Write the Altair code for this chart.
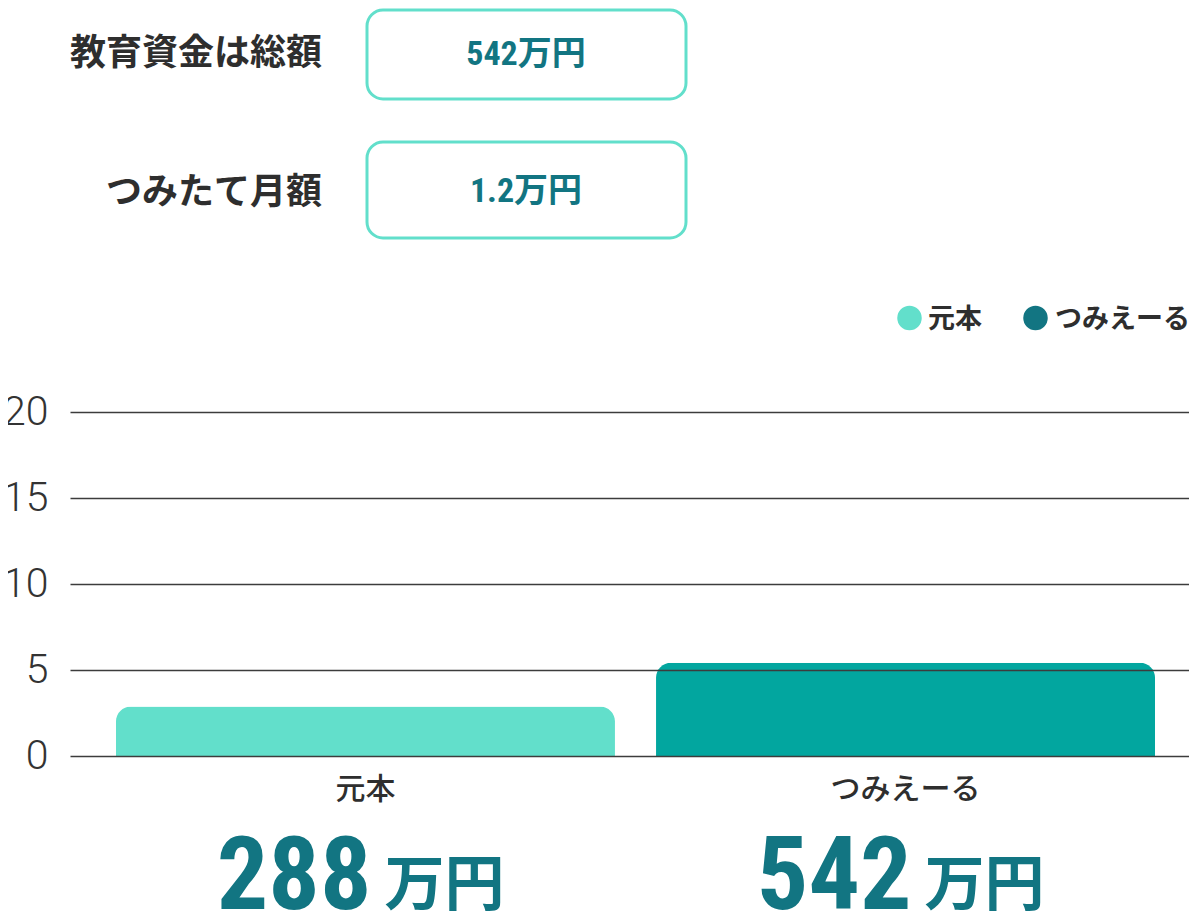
import altair as alt
import pandas as pd

# ---- data ----
categories = ["元本", "つみえーる"]
amounts_man = [288, 542]          # 万円
bar_colors = ["#62dfcb", "#02a69f"]
legend_colors = ["#62dfcb", "#127582"]
form_labels = ["教育資金は総額", "つみたて月額"]
form_values = ["542万円", "1.2万円"]
y_ticks = [0, 5, 10, 15, 20]
unit = "万円"

# ---- style ----
NARROW = "Liberation Sans Narrow, Roboto Condensed, Roboto, sans-serif"
CJK = "Noto Sans CJK JP"
TEAL_DARK = "#127582"
MINT = "#62dfcb"
TEXT = "#2e2e2e"

W, H = 1119, 344

bars_df = pd.DataFrame({"category": categories, "amount": amounts_man})

x_enc = alt.X(
    "category:N",
    sort=categories,
    scale=alt.Scale(paddingInner=0.076, paddingOuter=0.074, align=0.575),
    axis=alt.Axis(
        title=None, labelAngle=0, domain=False, ticks=False, grid=False,
        labelPadding=18, labelFont=CJK, labelFontSize=30, labelFontWeight=500,
        labelColor=TEXT,
    ),
)

y_enc = alt.Y(
    "height:Q",
    scale=alt.Scale(domain=[0, 20]),
    axis=alt.Axis(
        values=y_ticks, title=None, domain=False, ticks=False, grid=True,
        gridColor="#3c3c3c", gridWidth=1.5, labelFont="Roboto",
        labelFontWeight=300, labelFontSize=41, labelColor="#333333",
        labelPadding=22, zindex=1,
    ),
)

base = alt.Chart(bars_df).transform_calculate(height="datum.amount / 100")

bars = base.mark_bar(cornerRadiusTopLeft=15, cornerRadiusTopRight=15).encode(
    x=x_enc,
    y=y_enc,
    color=alt.Color("category:N", scale=alt.Scale(domain=categories, range=bar_colors), legend=None),
)

numbers = base.mark_text(
    align="right", baseline="alphabetic", dx=6, font=NARROW, fontSize=102,
    fontWeight="bold", color=TEAL_DARK,
).encode(x=x_enc, y=alt.value(497), text="amount:N")

units = base.mark_text(
    align="left", baseline="alphabetic", dx=19, font=CJK, fontSize=60,
    fontWeight="bold", color=TEAL_DARK,
).encode(x=x_enc, y=alt.value(493), text=alt.value(unit))

layers = [bars, numbers, units]

# ---- form rows (label + rounded box) ----
label_y = [-358, -219]
box_top = [-402, -270]
box_bot = [-313, -174]
val_y = [-357, -220]
for i in range(len(form_labels)):
    df = pd.DataFrame({"label": [form_labels[i]], "value": [form_values[i]]})
    layers.append(
        alt.Chart(df).mark_text(
            align="right", baseline="middle", font=CJK, fontSize=36,
            fontWeight="bold", color=TEXT,
        ).encode(x=alt.value(252), y=alt.value(label_y[i]), text="label:N")
    )
    layers.append(
        alt.Chart(df).mark_rect(
            cornerRadius=16, fill="white", stroke=MINT, strokeWidth=3,
        ).encode(x=alt.value(297), x2=alt.value(616), y=alt.value(box_top[i]), y2=alt.value(box_bot[i]))
    )
    layers.append(
        alt.Chart(df).mark_text(
            align="center", baseline="middle", font=NARROW + ", " + CJK, fontSize=34,
            fontWeight="bold", color=TEAL_DARK,
        ).encode(x=alt.value(456), y=alt.value(val_y[i]), text="value:N")
    )

# ---- custom legend ----
dot_x = [839.5, 965.5]
txt_x = [858, 985]
for i in range(len(categories)):
    df = pd.DataFrame({"category": [categories[i]]})
    layers.append(
        alt.Chart(df).mark_point(filled=True, shape="circle", size=600, opacity=1,
                                 color=legend_colors[i]).encode(
            x=alt.value(dot_x[i]), y=alt.value(-94))
    )
    layers.append(
        alt.Chart(df).mark_text(align="left", baseline="middle", font=CJK, fontSize=27,
                                fontWeight="bold", color=TEXT).encode(
            x=alt.value(txt_x[i]), y=alt.value(-92), text="category:N")
    )

chart = alt.layer(*layers).properties(
    width=W,
    height=H,
    padding={"left": 62, "top": 404, "right": 0, "bottom": 158},
    autosize=alt.AutoSizeParams(type="none"),
    background="white",
).configure_view(stroke=None)

chart.save("out.html", embed_options={"renderer": "svg", "actions": False})
